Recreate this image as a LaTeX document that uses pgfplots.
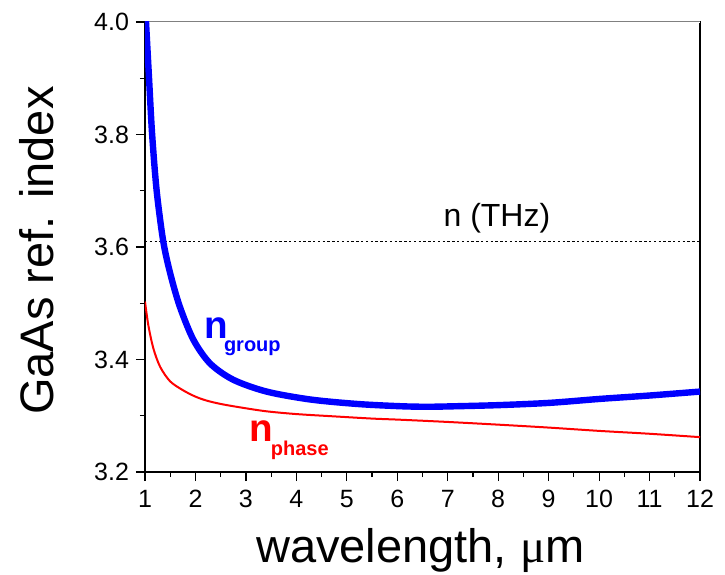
\documentclass[border=0pt]{standalone}
\usepackage{fontspec}
\setmainfont{Liberation Sans}
\usepackage{pgfplots}
\pgfplotsset{compat=1.18}

\begin{document}
\begin{tikzpicture}
\begin{axis}[
    scale only axis,
    width=277.5pt, height=225pt,
    xmin=1, xmax=12, ymin=3.2, ymax=4.0,
    xtick={1,...,12},
    ytick={3.2,3.4,3.6,3.8,4.0},
    minor tick num=1,
    xtick pos=bottom, ytick pos=left,
    tick align=outside,
    major tick length=4.5pt, minor tick length=2.5pt,
    every tick/.style={black, line width=0.6pt},
    axis line style={black, line width=0.7pt},
    /pgf/number format/assume math mode=true,
    yticklabel style={/pgf/number format/.cd, fixed, fixed zerofill, precision=1},
    ticklabel style={font=\fontsize{12.5}{14}\selectfont},
    xticklabel style={yshift=-1pt},
    xlabel={wavelength, {\fontspec{Liberation Serif}μ}m},
    ylabel={GaAs ref. index},
    label style={font=\fontsize{23.5}{27}\selectfont},
    xlabel style={at={(axis description cs:0.496,-0.2)}, anchor=base},
    ylabel style={at={(axis description cs:-0.165,0.492)}, anchor=base},
    clip mode=individual,
]
\coordinate (bl) at (rel axis cs:0,0);
\coordinate (tr) at (rel axis cs:1,1);
% top frame line is thin and grey
\draw[white, line width=1.2pt] (rel axis cs:0,1) -- (rel axis cs:1,1);
\draw[gray, line width=0.5pt] (rel axis cs:0,1) -- (rel axis cs:1,1);

% n (THz)
\addplot[black, line width=0.4pt, dash pattern=on 1.2pt off 1.2pt] coordinates {(1,3.61) (12,3.61)};

% n_phase
\addplot[red, line width=1pt, smooth] coordinates {
(1.0,3.503) (1.066,3.461) (1.165,3.420) (1.30,3.387) (1.50,3.361) (1.76,3.345)
(2.0,3.334) (2.22,3.327) (2.5,3.321) (2.88,3.315) (3.4,3.308) (4.0,3.303)
(4.73,3.299) (5.5,3.295) (6.05,3.293) (7.0,3.289) (8.04,3.284) (9.0,3.279)
(10.02,3.273) (11.0,3.268) (12.0,3.262)
};

% n_group
\addplot[blue, line width=3.2pt, smooth] coordinates {
(1.0,4.035) (1.02,4.0) (1.08,3.90) (1.14,3.802) (1.23,3.701) (1.36,3.611)
(1.50,3.553) (1.69,3.494) (1.96,3.435) (2.29,3.393) (2.75,3.364) (3.41,3.343)
(4.27,3.329) (5.2,3.321) (6.05,3.317) (6.6,3.316) (7.2,3.317) (8.04,3.319)
(9.03,3.323) (10.02,3.330) (11.0,3.336) (12.0,3.343)
};

\node[anchor=base west, font=\fontsize{16}{19}\selectfont, inner sep=0pt] at (axis cs:6.91,3.636) {n (THz)};
\node[anchor=base west, blue, inner sep=0pt] at (axis cs:2.17,3.4377)
  {\fontsize{19.3}{22}\selectfont\bfseries n\kern-2pt\raisebox{-6.7pt}{\fontsize{10}{12}\selectfont group}};
\node[anchor=base west, red, inner sep=0pt] at (axis cs:3.06,3.2539)
  {\fontsize{19.3}{22}\selectfont\bfseries n\kern-1pt\raisebox{-6.7pt}{\fontsize{10}{12}\selectfont phase}};
\end{axis}
\pgfresetboundingbox
\path ([shift={(-72.5pt,-51pt)}]bl) rectangle ([shift={(12.5pt,11pt)}]tr);
\end{tikzpicture}
\end{document}
